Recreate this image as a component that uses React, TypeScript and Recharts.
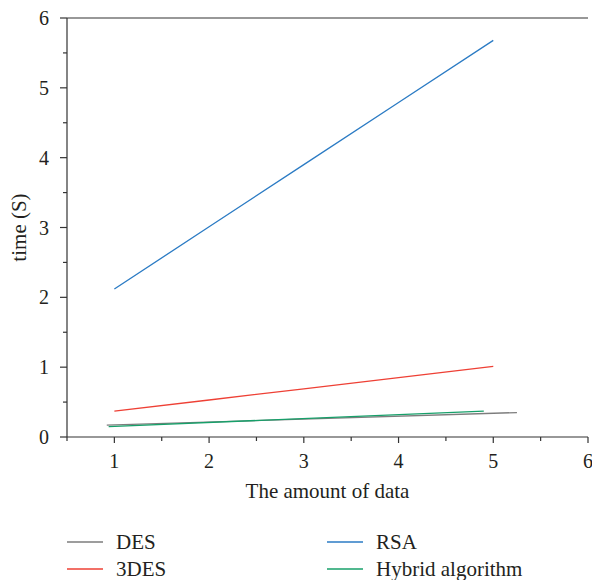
import React from 'react';
import { LineChart, Line, XAxis, YAxis, Legend, Label, ReferenceLine } from 'recharts';

// ---- data ----
const rsaX = [1, 2, 3, 4, 5];
const rsaY = [2.12, 3.01, 3.9, 4.79, 5.68];

const des3X = [1, 2, 3, 4, 5];
const des3Y = [0.37, 0.53, 0.69, 0.85, 1.01];

const desX = [0.92, 5.25];
const desY = [0.17, 0.35];

const hybridX = [0.94, 4.9];
const hybridY = [0.15, 0.37];

const xTicks = [0.5, 1, 1.5, 2, 2.5, 3, 3.5, 4, 4.5, 5, 5.5, 6];
const yTicks = [0, 0.5, 1, 1.5, 2, 2.5, 3, 3.5, 4, 4.5, 5, 5.5, 6];

const seriesNames = ['DES', '3DES', 'RSA', 'Hybrid algorithm'];
const seriesColors = ['#7d7d7d', '#ee4035', '#2b7bc4', '#17a06a'];

const zip = (xs: number[], ys: number[]) => xs.map((x, i) => ({ x, y: ys[i] }));
const desData = zip(desX, desY);
const des3Data = zip(des3X, des3Y);
const rsaData = zip(rsaX, rsaY);
const hybridData = zip(hybridX, hybridY);

const FONT = "'Liberation Serif', 'DejaVu Serif', serif";
const TEXT = '#231f20';
const AXIS = '#333333';
const textStyle = { fontFamily: FONT, fontSize: 20, fill: TEXT } as React.CSSProperties;
const labelStyle = { fontFamily: FONT, fontSize: 21, fill: TEXT } as React.CSSProperties;

const isMajor = (v: number) => Math.abs(v - Math.round(v)) < 1e-6;

const XTick = (props: any) => {
  const { x, y, payload } = props;
  const v = payload.value;
  const major = isMajor(v);
  return (
    <g>
      <line x1={x} x2={x} y1={y} y2={y + (major ? 6 : 4)} stroke={AXIS} strokeWidth={1.2} />
      {major && (
        <text x={x} y={y + 31} textAnchor="middle" style={textStyle}>
          {v}
        </text>
      )}
    </g>
  );
};

const YTick = (props: any) => {
  const { x, y, payload } = props;
  const v = payload.value;
  const major = isMajor(v);
  return (
    <g>
      <line x1={x - (major ? 7 : 4)} x2={x} y1={y} y2={y} stroke={AXIS} strokeWidth={1.2} />
      {major && (
        <text x={x - 18} y={y + 7} textAnchor="end" style={textStyle}>
          {v}
        </text>
      )}
    </g>
  );
};

const LegendContent = (props: any) => {
  const payload = props.payload || [];
  return (
    <svg width={592} height={50} style={{ display: 'block' }}>
      {payload.map((entry: any, k: number) => {
        const idx = seriesNames.indexOf(entry.value);
        const i = idx >= 0 ? idx : k;
        const col = Math.floor(i / 2);
        const row = i % 2;
        const lx = col === 0 ? 67 : 327;
        const ly = row === 0 ? 12 : 39;
        return (
          <g key={k}>
            <line x1={lx} x2={lx + 36} y1={ly} y2={ly} stroke={entry.color} strokeWidth={1.5} />
            <text x={lx + 49} y={ly + 7} style={labelStyle}>
              {entry.value}
            </text>
          </g>
        );
      })}
    </svg>
  );
};

export default function App() {
  return (
    <div style={{ position: 'absolute', left: 0, top: 0, width: 592, height: 581, background: '#fff' }}>
      <LineChart width={592} height={581} margin={{ top: 18, right: 4, left: 0, bottom: 0 }}>
        <XAxis
          dataKey="x"
          type="number"
          domain={[0.5, 6]}
          ticks={xTicks}
          interval={0}
          height={144}
          allowDataOverflow
          tickLine={false}
          tickSize={0}
          tickMargin={0}
          tick={<XTick />}
          axisLine={{ stroke: AXIS, strokeWidth: 1.2 }}
        >
          <Label
            content={(p: any) => {
              const vb = p.viewBox;
              return (
                <text x={vb.x + vb.width / 2} y={vb.y + 61} textAnchor="middle" style={labelStyle}>
                  The amount of data
                </text>
              );
            }}
          />
        </XAxis>
        <YAxis
          type="number"
          domain={[0, 6]}
          ticks={yTicks}
          interval={0}
          width={67}
          allowDataOverflow
          tickLine={false}
          tickSize={0}
          tickMargin={0}
          tick={<YTick />}
          axisLine={{ stroke: AXIS, strokeWidth: 1.2 }}
        >
          <Label
            content={(p: any) => {
              const vb = p.viewBox;
              const cx = vb.x + 26;
              const cy = vb.y + vb.height / 2;
              return (
                <text
                  x={cx}
                  y={cy}
                  textAnchor="middle"
                  transform={`rotate(-90, ${cx}, ${cy})`}
                  style={labelStyle}
                >
                  time (S)
                </text>
              );
            }}
          />
        </YAxis>
        <YAxis
          yAxisId="right"
          orientation="right"
          type="number"
          domain={[0, 6]}
          width={0}
          tick={false}
          tickLine={false}
          axisLine={{ stroke: AXIS, strokeWidth: 1.2 }}
        />
        <ReferenceLine y={6} stroke={AXIS} strokeWidth={1.2} />
        <Legend
          layout="horizontal"
          verticalAlign="middle"
          align="center"
          wrapperStyle={{ top: 530, left: 0, width: 592 }}
          content={<LegendContent />}
        />
        <Line data={desData} dataKey="y" name={seriesNames[0]} stroke={seriesColors[0]} strokeWidth={1.3} dot={false} isAnimationActive={false} />
        <Line data={des3Data} dataKey="y" name={seriesNames[1]} stroke={seriesColors[1]} strokeWidth={1.3} dot={false} isAnimationActive={false} />
        <Line data={rsaData} dataKey="y" name={seriesNames[2]} stroke={seriesColors[2]} strokeWidth={1.3} dot={false} isAnimationActive={false} />
        <Line data={hybridData} dataKey="y" name={seriesNames[3]} stroke={seriesColors[3]} strokeWidth={1.3} dot={false} isAnimationActive={false} />
      </LineChart>
    </div>
  );
}
